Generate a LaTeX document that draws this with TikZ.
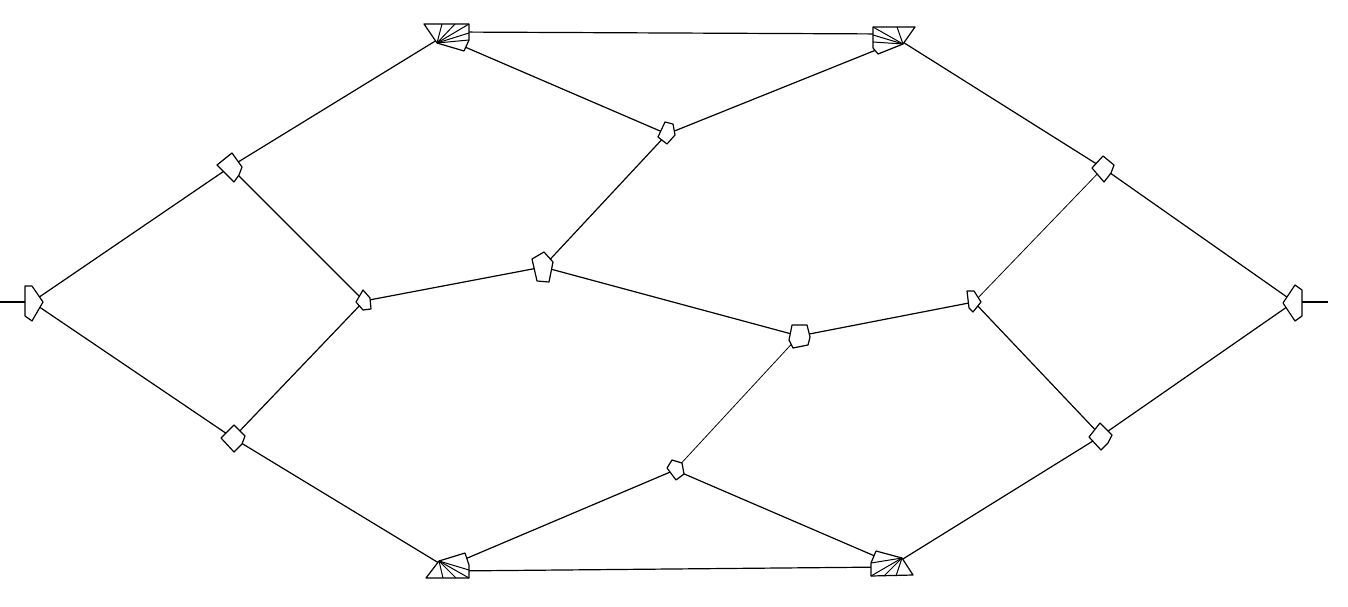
\documentclass[tikz,border=0pt]{standalone}
\begin{document}
\begin{tikzpicture}[x=1pt,y=-1pt,
  edge/.style={line width=1.2pt},
  thinedge/.style={line width=0.8pt},
  blob/.style={draw,fill=white,line width=1.2pt,line join=round},
  fan/.style={line width=1pt}]
\useasboundingbox (0,0) rectangle (1348,607);
% node centres
\coordinate (Ls) at (0,302);
\coordinate (L) at (32,302);
\coordinate (R) at (1294,302);
\coordinate (Rs) at (1328,302);
\coordinate (A1) at (230,167);
\coordinate (A2) at (233,438);
\coordinate (B) at (364,301);
\coordinate (C) at (543,267);
\coordinate (D) at (799,336);
\coordinate (E) at (974,302);
\coordinate (F1) at (1103,168);
\coordinate (F2) at (1101,436);
\coordinate (G) at (667,134);
\coordinate (H) at (675,470);
\coordinate (T1) at (450,32);
\coordinate (T1p) at (458,44);
\coordinate (T2) at (890,34);
\coordinate (T2p) at (886,46);
\coordinate (B1) at (452,571);
\coordinate (B1p) at (458,562);
\coordinate (B2) at (890,567);
\coordinate (B2p) at (884,560);
% connectors
\draw[edge] (Ls) -- (L);
\draw[edge] (Rs) -- (R);
\draw[edge] (L) -- (A1);
\draw[edge] (L) -- (A2);
\draw[edge] (A1) -- (T1);
\draw[edge] (A1) -- (B);
\draw[edge] (A2) -- (B);
\draw[edge] (A2) -- (B1);
\draw[edge] (B) -- (C);
\draw[edge] (C) -- (G);
\draw[edge] (C) -- (D);
\draw[edge] (G) -- (T1p);
\draw[edge] (G) -- (T2p);
\draw[edge] (T1) -- (T2);
\draw[edge] (T2) -- (F1);
\draw[edge] (F1) -- (R);
\draw[thinedge] (F1) -- (E);
\draw[edge] (D) -- (E);
\draw[thinedge] (D) -- (H);
\draw[edge] (E) -- (F2);
\draw[edge] (F2) -- (R);
\draw[edge] (F2) -- (B2);
\draw[edge] (H) -- (B1p);
\draw[edge] (H) -- (B2p);
\draw[edge] (B1) -- (B2);
% small nodes
\draw[blob] (25,286) -- (32,286) -- (43,302) -- (32,321) -- (25,316) -- cycle;
\draw[blob] (1283,303) -- (1295,285) -- (1302,290) -- (1302,316) -- (1295,321) -- cycle;
\draw[blob] (217,165) -- (232,153) -- (242,167) -- (239,175) -- (234,182) -- cycle;
\draw[blob] (221,438) -- (234,425) -- (245,436) -- (242,444) -- (234,452) -- cycle;
\draw[blob] (356,302) -- (363,290) -- (370,298) -- (371,309) -- (363,310) -- cycle;
\draw[blob] (532,259) -- (544,252) -- (553,262) -- (549,282) -- (537,281) -- cycle;
\draw[blob] (792,325) -- (807,325) -- (810,337) -- (808,345) -- (793,348) -- (789,340) -- cycle;
\draw[blob] (658,137) -- (665,122) -- (673,124) -- (675,135) -- (667,144) -- cycle;
\draw[blob] (967,291) -- (974,291) -- (981,302) -- (973,312) -- (969,308) -- cycle;
\draw[blob] (1092,168) -- (1103,156) -- (1114,165) -- (1111,173) -- (1104,182) -- cycle;
\draw[blob] (1089,437) -- (1100,423) -- (1112,435) -- (1108,443) -- (1101,450) -- cycle;
\draw[blob] (667,468) -- (672,460) -- (682,463) -- (684,474) -- (676,480) -- cycle;
% clusters
\draw[blob] (424,24) -- (469,24) -- (469,40) -- (464,51) -- (437,43) -- cycle;
\foreach \p in {(442,24),(455,24),(469,24),(469,33),(469,40)} \draw[fan] (437,43) -- \p;
\draw[blob] (873,27) -- (915,27) -- (903,44) -- (878,54) -- (873,48) -- cycle;
\foreach \p in {(873,27),(873,35),(873,42),(897,27)} \draw[fan] (903,44) -- \p;
\draw[blob] (426,578) -- (439,561) -- (465,553) -- (469,565) -- (469,578) -- cycle;
\foreach \p in {(443,578),(456,578),(469,578),(469,570)} \draw[fan] (439,561) -- \p;
\draw[blob] (871,576) -- (871,563) -- (876,551) -- (902,558) -- (913,575) -- cycle;
\foreach \p in {(871,563),(871,576),(884,576),(896,576)} \draw[fan] (902,558) -- \p;
\end{tikzpicture}
\end{document}
